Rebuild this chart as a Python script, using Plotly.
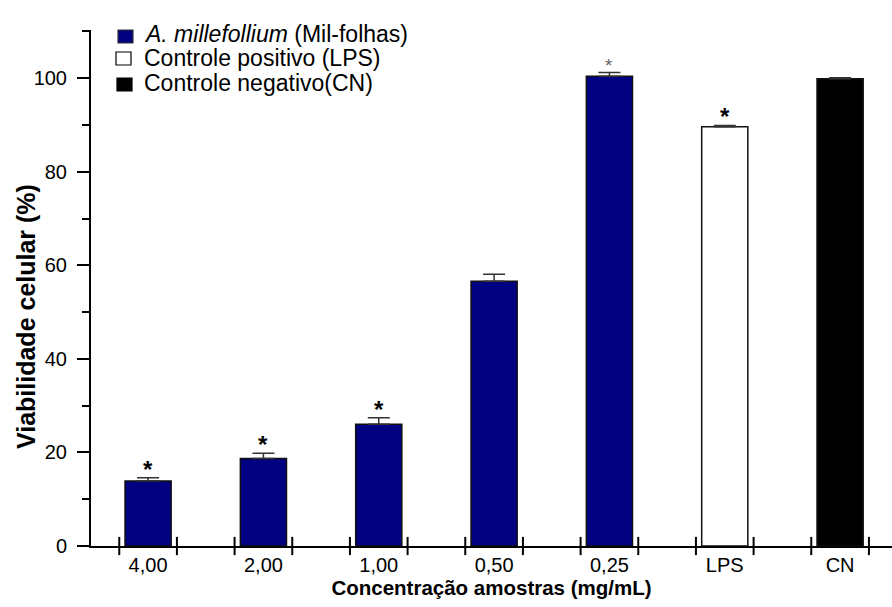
import plotly.graph_objects as go

# Viability by sample concentration
categories = ["4,00", "2,00", "1,00", "0,50", "0,25", "LPS", "CN"]
extract_vals = [13.9, 18.7, 26.0, 56.6, 100.4]
extract_err = [0.7, 1.1, 1.4, 1.5, 0.8]
lps_val = [89.6]
lps_err = [0.3]
cn_val = [99.9]
cn_err = [0.2]
signif = ["*", "*", "*", "", "*", "*", ""]
legend_labels = ["<i>A. millefollium</i> (Mil-folhas)",
                 "Controle positivo (LPS)",
                 "Controle negativo(CN)"]

FONT = "Liberation Sans, Arial, sans-serif"
BLUE = "#000080"

W, H = 892, 607
ML, MR, MT, MB = 91, 0, 30, 61
PW, PH = W - ML - MR, H - MT - MB


def px(xp):
    return (xp - ML) / PW


def py(yp):
    return (H - MB - yp) / PH


x_all = list(range(len(categories)))
x_ext = x_all[:5]
x_lps = [x_all[5]]
x_cn = [x_all[6]]

fig = go.Figure()


def add_bar(x, y, err, color, name):
    fig.add_trace(go.Bar(
        x=x, y=y, name=name, width=0.4, showlegend=False,
        marker=dict(color=color, line=dict(color="#111111", width=1.5)),
        error_y=dict(type="data", array=err, arrayminus=[0] * len(err),
                     symmetric=False, color="#333333", thickness=1.5, width=11),
    ))


add_bar(x_ext, extract_vals, extract_err, BLUE, legend_labels[0])
add_bar(x_lps, lps_val, lps_err, "#ffffff", legend_labels[1])
add_bar(x_cn, cn_val, cn_err, "#000000", legend_labels[2])

# x-axis tick marks crossing the axis line, between categories
tick_pos = []
for i in x_all:
    tick_pos += [i - 0.25, i + 0.25]
fig.add_trace(go.Scatter(
    x=tick_pos, y=[0] * len(tick_pos), mode="markers", cliponaxis=False,
    showlegend=False, hoverinfo="skip",
    marker=dict(symbol="line-ns-open", size=13, color="black",
                line=dict(color="black", width=2)),
))

# significance markers above the error bars
tops = [v + e for v, e in zip(extract_vals + lps_val + cn_val,
                              extract_err + lps_err + cn_err)]
for i, (t, s) in enumerate(zip(tops, signif)):
    if not s:
        continue
    light = categories[i] == "0,25"
    fig.add_annotation(
        x=x_all[i], y=t, text=s if light else f"<b>{s}</b>",
        showarrow=False, yanchor="bottom", yshift=-7 if not light else -5,
        font=dict(family=FONT, size=19 if light else 24,
                  color="#666666" if light else "black"),
    )

# legend drawn as swatches + labels in the upper-left corner
swatches = [(BLUE, "#333333", 118, 133, 30, 43),
            ("#ffffff", "#000000", 116, 131, 52, 65),
            ("#000000", "#000000", 117, 132, 78, 91)]
label_y = [34, 58, 83]
for (fill, edge, x0, x1, y0, y1), lab, ly in zip(swatches, legend_labels, label_y):
    fig.add_shape(type="rect", xref="paper", yref="paper",
                  x0=px(x0), x1=px(x1), y0=py(y1), y1=py(y0),
                  fillcolor=fill, line=dict(color=edge, width=1.2))
    fig.add_annotation(xref="paper", yref="paper", x=px(142), y=py(ly),
                       xanchor="left", yanchor="middle", showarrow=False,
                       text=lab, font=dict(family=FONT, size=23, color="black"))

# y-axis title
fig.add_annotation(xref="paper", yref="paper", x=px(26), y=py(317),
                   xanchor="center", yanchor="middle", showarrow=False,
                   textangle=-90, text="<b>Viabilidade celular (%)</b>",
                   font=dict(family=FONT, size=25, color="black"))

fig.update_layout(
    width=W, height=H,
    margin=dict(l=ML, r=MR, t=MT, b=MB),
    paper_bgcolor="white", plot_bgcolor="white",
    barmode="overlay",
    font=dict(family=FONT, size=20, color="black"),
    showlegend=False,
    xaxis=dict(
        range=[-0.495, 6.45], tickmode="array", tickvals=x_all,
        ticktext=categories, ticks="", showgrid=False, zeroline=False,
        showline=True, linecolor="black", linewidth=2,
        title=dict(text="<b>Concentração amostras (mg/mL)</b>",
                   font=dict(size=20.5), standoff=6),
        tickfont=dict(size=20),
    ),
    yaxis=dict(
        range=[0, 110.3], tickmode="array", tickvals=[0, 20, 40, 60, 80, 100],
        ticks="outside", ticklen=12, tickwidth=2, tickcolor="black",
        ticklabelstandoff=6,
        minor=dict(tickvals=[10, 30, 50, 70, 90, 110], ticks="outside",
                   ticklen=7, tickwidth=2, tickcolor="black"),
        showgrid=False, zeroline=False, showline=True, linecolor="black",
        linewidth=2, tickfont=dict(size=20),
    ),
)

fig.write_html("out.html")
